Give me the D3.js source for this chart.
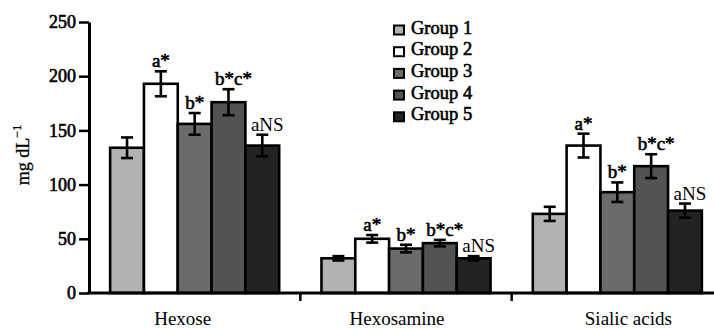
<!DOCTYPE html>
<html>
<head>
<meta charset="utf-8">
<script src="https://cdn.jsdelivr.net/npm/d3@7/dist/d3.min.js"></script>
<style>
  html, body { margin: 0; padding: 0; background: #fff; }
  svg { display: block; }
  text { font-family: "Liberation Serif", "Times New Roman", serif; fill: #000; }
  .heavy { stroke: #000; stroke-width: 0.6px; font-weight: normal; }
</style>
</head>
<body>
<svg id="chart" width="714" height="328"></svg>
<script>
// Carbohydrate moieties per study group (mg dL-1), mean and error
const categories = ["Hexose", "Hexosamine", "Sialic acids"];
const groups = ["Group 1", "Group 2", "Group 3", "Group 4", "Group 5"];
const hexose      = [134, 193, 156, 176, 136];
const hexosamine  = [32, 50, 41, 46, 32];
const sialicAcids = [73, 136, 93, 117, 76];
const hexoseErr      = [9.5, 11.5, 10, 12, 10];
const hexosamineErr  = [2, 3.5, 3.5, 3, 2];
const sialicAcidsErr = [6.5, 11, 9, 11, 6.5];
const sigLabels = ["", "a*", "b*", "b*c*", "aNS"];
const groupColors = ["#b2b2b2", "#ffffff", "#6b6b6b", "#535353", "#232323"];
const yTicks = [0, 50, 100, 150, 200, 250];

const values = [hexose, hexosamine, sialicAcids];
const errors = [hexoseErr, hexosamineErr, sialicAcidsErr];

const svg = d3.select("#chart");
const plotLeft = 89, plotRight = 723, plotTop = 22, plotBottom = 293;

const x0 = d3.scaleBand().domain(categories).range([plotLeft, plotRight]).padding(0);
const x1 = d3.scaleBand().domain(groups).range([0, x0.bandwidth()])
  .paddingInner(0).paddingOuter(0.625);
const y = d3.scaleLinear().domain([0, 250]).range([plotBottom, plotTop]);

// Bars, error bars and significance labels
categories.forEach((cat, ci) => {
  const g = svg.append("g").attr("transform", `translate(${x0(cat)},0)`);
  groups.forEach((grp, gi) => {
    const v = values[ci][gi], e = errors[ci][gi];
    const bx = x1(grp), bw = x1.bandwidth(), cx = bx + bw / 2;
    g.append("rect")
      .attr("x", bx).attr("y", y(v))
      .attr("width", bw).attr("height", y(0) - y(v))
      .attr("fill", groupColors[gi])
      .attr("stroke", "#000").attr("stroke-width", 2.6);
    const eg = g.append("g").attr("stroke", "#000").attr("stroke-width", 2.6);
    eg.append("line").attr("x1", cx).attr("x2", cx).attr("y1", y(v + e)).attr("y2", y(v - e));
    eg.append("line").attr("x1", cx - 6).attr("x2", cx + 6).attr("y1", y(v + e)).attr("y2", y(v + e));
    eg.append("line").attr("x1", cx - 6).attr("x2", cx + 6).attr("y1", y(v - e)).attr("y2", y(v - e));
    const lab = sigLabels[gi];
    if (lab) {
      const starred = lab.includes("*");
      g.append("text")
        .attr("class", starred ? "heavy" : null)
        .attr("x", cx + (lab.length > 2 ? 5 : 0))
        .attr("y", y(v + e) - 4)
        .attr("text-anchor", "middle")
        .attr("font-size", 19)
        .text(lab);
    }
  });
});

// Y axis
const yAxis = svg.append("g")
  .attr("transform", `translate(${plotLeft},0)`)
  .call(d3.axisLeft(y).tickValues(yTicks).tickSize(10).tickPadding(3).tickSizeOuter(0));
yAxis.select(".domain").attr("stroke-width", 3);
yAxis.selectAll(".tick line").attr("stroke-width", 2.5);
yAxis.selectAll(".tick text")
  .attr("class", "heavy")
  .attr("font-size", 18)
  .attr("font-family", "Liberation Serif, serif");

// X axis baseline with separators between categories
svg.append("line")
  .attr("x1", plotLeft - 1.5).attr("x2", 714)
  .attr("y1", plotBottom).attr("y2", plotBottom)
  .attr("stroke", "#000").attr("stroke-width", 3);
categories.slice(1).forEach(cat => {
  svg.append("line")
    .attr("x1", x0(cat)).attr("x2", x0(cat))
    .attr("y1", plotBottom).attr("y2", plotBottom + 8)
    .attr("stroke", "#000").attr("stroke-width", 2.5);
});
// category names sit slightly off their band centres
const labelNudge = [-12, -9, 11];
svg.selectAll(".cat-label").data(categories).enter().append("text")
  .attr("class", "cat-label")
  .attr("x", (d, i) => x0(d) + x0.bandwidth() / 2 + labelNudge[i])
  .attr("y", 325)
  .attr("text-anchor", "middle")
  .attr("font-size", 19)
  .text(d => d);

// Y axis title
const yt = svg.append("text")
  .attr("transform", "translate(29,155) rotate(-90)")
  .attr("text-anchor", "middle")
  .attr("stroke", "#000").attr("stroke-width", 0.3)
  .attr("font-size", 18);
yt.append("tspan").text("mg dL");
yt.append("tspan").attr("dy", -8).attr("font-size", 12).text("\u22121");

// Legend
const legend = svg.append("g").attr("transform", "translate(394,30)");
groups.forEach((grp, gi) => {
  const row = legend.append("g").attr("transform", `translate(0,${gi * 21.7})`);
  row.append("rect").attr("x", 0).attr("y", -4.5).attr("width", 10).attr("height", 9)
    .attr("fill", groupColors[gi]).attr("stroke", "#000").attr("stroke-width", 2);
  row.append("text").attr("class", "heavy").attr("x", 17).attr("y", 3.5)
    .attr("font-size", 18.5).text(grp);
});
</script>
</body>
</html>
